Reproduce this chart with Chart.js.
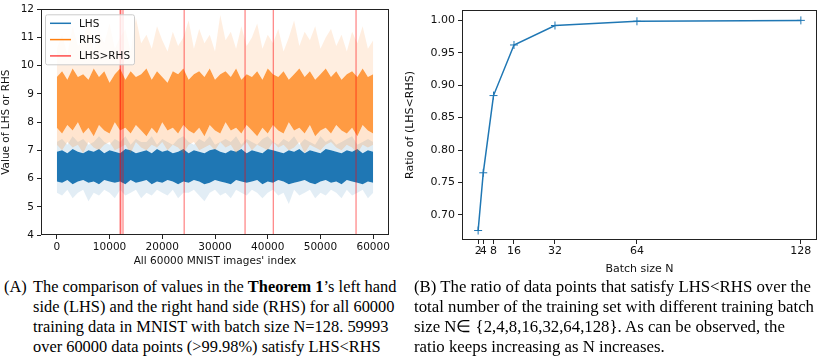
<!DOCTYPE html>
<html>
<head>
<meta charset="utf-8">
<script src="https://cdn.jsdelivr.net/npm/chart.js@4.4.1/dist/chart.umd.min.js"></script>
<style>
  body { margin: 0; background: #fff; width: 822px; height: 361px; position: relative; overflow: hidden; }
  canvas { position: absolute; top: 0; }
  #left { left: 0; }
  #right { left: 400px; }
  .cap { position: absolute; font-family: "Liberation Serif", serif; font-size: 16.4px; line-height: 20px; color: #000; white-space: nowrap; }
  #capA { left: 4px; top: 277px; }
  #capA .lab { position: absolute; left: 0; top: 0; }
  #capA .txt { margin-left: 29px; }
  #capB { left: 414px; top: 277px; font-size: 16.8px; }
</style>
</head>
<body>
<canvas id="left" width="400" height="270"></canvas>
<canvas id="right" width="422" height="280"></canvas>
<div class="cap" id="capA"><span class="lab">(A)</span><div class="txt">The comparison of values in the <b>Theorem 1</b>’s left hand<br>side (LHS) and the right hand side (RHS) for all 60000<br>training data in MNIST with batch size N=128. 59993<br>over 60000 data points (&gt;99.98%) satisfy LHS&lt;RHS</div></div>
<div class="cap" id="capB">(B) The ratio of data points that satisfy LHS&lt;RHS over the<br>total number of the training set with different training batch<br>size N∈ {2,4,8,16,32,64,128}. As can be observed, the<br>ratio keeps increasing as N increases.</div>
<script>
// left panel: envelopes of the dense LHS / RHS traces, one value per 1000 images
const imageIndex = Array.from({ length: 61 }, (_, i) => i * 1000);
const rhsTop = [
  10.6, 11.1, 10.4, 11.4, 10.7, 10.9, 11.6, 10.5, 11.2, 10.8,
  11.5, 10.6, 11.0, 11.3, 10.5, 11.7, 10.8, 11.1, 10.6, 11.4,
  10.9, 10.5, 11.2, 10.7, 11.0, 11.6, 10.6, 11.3, 10.8, 11.1,
  10.5, 11.8, 10.9, 11.2, 10.6, 11.4, 10.7, 11.0, 11.5, 10.6,
  11.1, 10.8, 11.3, 10.5, 11.0, 11.6, 10.7, 11.2, 10.9, 11.4,
  10.6, 11.0, 11.3, 10.7, 11.1, 10.5, 11.2, 10.8, 11.4, 10.6,
  10.9];
const rhsCoreTop = [
  9.6, 9.8, 9.5, 9.9, 9.6, 9.7, 9.5, 9.9, 9.6, 9.8,
  9.4, 9.7, 9.9, 9.5, 9.8, 9.6, 9.7, 9.9, 9.5, 9.8,
  9.6, 9.4, 9.8, 9.7, 9.9, 9.5, 9.7, 9.8, 9.6, 9.9,
  9.5, 9.7, 9.8, 9.6, 9.9, 9.5, 9.7, 9.6, 9.8, 9.5,
  9.9, 9.7, 9.6, 9.8, 9.5, 9.7, 9.9, 9.6, 9.8, 9.5,
  9.7, 9.9, 9.6, 9.8, 9.5, 9.7, 9.8, 9.6, 9.9, 9.6,
  9.7];
const rhsCoreBot = [
  7.8, 7.6, 7.9, 7.7, 8.0, 7.6, 7.8, 7.5, 7.9, 7.7,
  7.6, 8.0, 7.7, 7.8, 7.6, 7.9, 7.7, 7.5, 7.8, 7.6,
  8.0, 7.7, 7.8, 7.6, 7.9, 7.7, 7.6, 7.8, 7.5, 7.9,
  7.7, 7.6, 8.0, 7.7, 7.8, 7.6, 7.9, 7.7, 7.5, 7.8,
  7.6, 7.9, 7.7, 7.6, 8.0, 7.7, 7.8, 7.6, 7.9, 7.5,
  7.7, 7.8, 7.6, 7.9, 7.7, 7.6, 7.8, 7.5, 7.9, 7.7,
  7.6];
const rhsLow = [
  7.2, 7.0, 7.3, 7.1, 7.2, 6.9, 7.3, 7.1, 7.0, 7.2,
  7.3, 7.0, 7.1, 7.2, 6.9, 7.3, 7.1, 7.0, 7.2, 7.1,
  7.3, 7.0, 7.2, 7.1, 6.9, 7.2, 7.3, 7.0, 7.1, 7.2,
  7.0, 7.3, 7.1, 7.2, 6.9, 7.1, 7.3, 7.0, 7.2, 7.1,
  7.0, 7.3, 7.1, 7.2, 7.0, 7.1, 7.3, 6.9, 7.2, 7.1,
  7.0, 7.2, 7.3, 7.1, 7.0, 7.2, 7.1, 6.9, 7.2, 7.1,
  7.2];
const lhsTop = [
  7.3, 7.4, 7.2, 7.5, 7.3, 7.4, 7.2, 7.3, 7.5, 7.3,
  7.2, 7.4, 7.3, 7.5, 7.2, 7.4, 7.3, 7.3, 7.5, 7.2,
  7.4, 7.3, 7.2, 7.4, 7.5, 7.3, 7.2, 7.4, 7.3, 7.5,
  7.2, 7.3, 7.4, 7.3, 7.5, 7.2, 7.4, 7.3, 7.2, 7.4,
  7.5, 7.3, 7.2, 7.4, 7.3, 7.5, 7.2, 7.4, 7.3, 7.2,
  7.5, 7.3, 7.4, 7.2, 7.3, 7.4, 7.5, 7.2, 7.3, 7.4,
  7.3];
const lhsCoreTop = [
  6.95, 7.0, 6.9, 7.05, 6.95, 6.9, 7.0, 6.95, 7.05, 6.9,
  7.0, 6.95, 6.9, 7.05, 7.0, 6.9, 6.95, 7.0, 6.9, 7.05,
  6.95, 7.0, 6.9, 6.95, 7.05, 6.9, 7.0, 6.95, 6.9, 7.0,
  7.05, 6.95, 6.9, 7.0, 6.95, 7.05, 6.9, 7.0, 6.95, 6.9,
  7.05, 7.0, 6.95, 6.9, 7.0, 6.95, 7.05, 6.9, 7.0, 6.95,
  6.9, 7.05, 7.0, 6.95, 6.9, 7.0, 6.95, 7.05, 6.9, 7.0,
  6.95];
const lhsCoreBot = [
  5.9, 5.85, 5.95, 5.8, 5.9, 5.95, 5.85, 5.9, 5.8, 5.95,
  5.9, 5.85, 5.9, 5.8, 5.95, 5.85, 5.9, 5.95, 5.8, 5.9,
  5.85, 5.95, 5.9, 5.8, 5.9, 5.85, 5.95, 5.9, 5.8, 5.85,
  5.95, 5.9, 5.85, 5.8, 5.95, 5.9, 5.85, 5.9, 5.95, 5.8,
  5.9, 5.85, 5.95, 5.9, 5.8, 5.85, 5.9, 5.95, 5.85, 5.8,
  5.9, 5.95, 5.85, 5.9, 5.8, 5.95, 5.9, 5.85, 5.8, 5.9,
  5.85];
const lhsLow = [
  5.5, 5.4, 5.6, 5.3, 5.5, 5.6, 5.2, 5.5, 5.4, 5.6,
  5.5, 5.3, 5.6, 5.4, 5.5, 5.6, 5.3, 5.5, 5.4, 5.6,
  5.5, 5.4, 5.6, 5.3, 5.5, 5.5, 5.6, 5.4, 5.2, 5.5,
  5.6, 5.4, 5.5, 5.3, 5.6, 5.5, 5.4, 5.6, 5.5, 5.3,
  5.5, 5.6, 5.4, 5.5, 5.1, 5.6, 5.4, 5.5, 5.6, 5.3,
  5.5, 5.4, 5.6, 5.5, 5.3, 5.6, 5.4, 5.5, 5.6, 5.3,
  5.5];
// images where LHS > RHS (7 of 60000)
const violations = [12000, 12150, 12550, 24150, 35700, 41050, 56750];
const leftXTicks = [0, 10000, 20000, 30000, 40000, 50000, 60000];
const leftYTicks = [4, 5, 6, 7, 8, 9, 10, 11, 12];

// right panel
const batchSizes = [2, 4, 8, 16, 32, 64, 128];
const ratios = [0.676, 0.765, 0.884, 0.962, 0.992, 0.9985, 0.9999];
const rightYTicks = [0.70, 0.75, 0.80, 0.85, 0.90, 0.95, 1.00];

const BLUE = "#1f77b4";
const ORANGE = "#ff7f0e";
const TXT = "#111";

const pts = (arr) => arr.map((v, i) => ({ x: imageIndex[i], y: v }));
const band = (arr, fillColor) => ({
  data: pts(arr), borderWidth: 0, pointRadius: 0, tension: 0,
  fill: fillColor ? "+1" : false, backgroundColor: fillColor || "transparent",
});

const redLine = [];
violations.forEach((v) => {
  redLine.push({ x: v, y: 3.5 }, { x: v, y: 12.5 }, { x: v, y: null });
});

// box around plot area like matplotlib spines
const frame = {
  id: "frame",
  afterDraw(chart) {
    const { ctx, chartArea: a } = chart;
    ctx.save();
    ctx.strokeStyle = "#222";
    ctx.lineWidth = 1;
    ctx.strokeRect(Math.round(a.left) + 0.5, Math.round(a.top) + 0.5,
      Math.round(a.right - a.left) - 1, Math.round(a.bottom - a.top) - 1);
    ctx.restore();
  },
};

// legend inside the plot (top left)
const boxLegend = {
  id: "boxLegend",
  afterDraw(chart) {
    const { ctx, chartArea: a } = chart;
    const items = [["LHS", BLUE], ["RHS", ORANGE], ["LHS>RHS", "rgba(255,0,0,0.7)"]];
    const x0 = a.left + 4, y0 = a.top + 5, w = 89, h = 50;
    ctx.save();
    ctx.fillStyle = "rgba(255,255,255,0.8)";
    ctx.strokeStyle = "#ccc";
    ctx.lineWidth = 1;
    ctx.beginPath();
    ctx.roundRect(x0 + 0.5, y0 + 0.5, w, h, 2);
    ctx.fill();
    ctx.stroke();
    ctx.font = "10.5px 'DejaVu Sans'";
    ctx.textBaseline = "middle";
    items.forEach(([label, color], i) => {
      const y = y0 + 9 + i * 16.3;
      ctx.strokeStyle = color;
      ctx.lineWidth = 1.5;
      ctx.beginPath();
      ctx.moveTo(x0 + 5, y);
      ctx.lineTo(x0 + 26, y);
      ctx.stroke();
      ctx.fillStyle = TXT;
      ctx.fillText(label, x0 + 34, y + 0.5);
    });
    ctx.restore();
  },
};

const tickGrid = { drawOnChartArea: false, drawTicks: true, tickLength: 4, tickColor: "#222", tickWidth: 1 };

new Chart(document.getElementById("left"), {
  type: "line",
  data: {
    datasets: [
      { data: redLine, borderColor: "rgba(255,0,0,0.6)", borderWidth: 1, pointRadius: 0, fill: false, spanGaps: false },
      band(rhsTop, "rgba(255,127,14,0.13)"),
      band(rhsCoreTop, "rgba(255,127,14,0.78)"),
      band(rhsCoreBot, "rgba(255,127,14,0.2)"),
      band(rhsLow, null),
      band(lhsTop, "rgba(31,119,180,0.14)"),
      band(lhsCoreTop, BLUE),
      band(lhsCoreBot, "rgba(31,119,180,0.13)"),
      band(lhsLow, null),
    ],
  },
  options: {
    responsive: false,
    animation: false,
    devicePixelRatio: 1,
    events: [],
    layout: { padding: { top: 7, right: 11, left: 0, bottom: 0 } },
    plugins: { legend: { display: false }, tooltip: { enabled: false } },
    scales: {
      x: {
        type: "linear", min: -3000, max: 63000,
        afterBuildTicks: (s) => { s.ticks = leftXTicks.map((v) => ({ value: v })); },
        afterFit: (s) => { s.height = 35; },
        grid: tickGrid,
        border: { display: false },
        ticks: { color: TXT, font: { family: "DejaVu Sans", size: 10.5 }, padding: 2, maxRotation: 0, autoSkip: false, callback: (v) => String(v) },
        title: { display: true, text: "All 60000 MNIST images' index", color: TXT, font: { family: "DejaVu Sans", size: 10.5 }, padding: { top: 0, bottom: 2 } },
      },
      y: {
        min: 4, max: 12,
        afterBuildTicks: (s) => { s.ticks = leftYTicks.map((v) => ({ value: v })); },
        afterFit: (s) => { s.width = 41; },
        grid: tickGrid,
        border: { display: false },
        ticks: { color: TXT, font: { family: "DejaVu Sans", size: 10.5 }, padding: 3, callback: (v) => String(v) },
        title: { display: true, text: "Value of LHS or RHS", color: TXT, font: { family: "DejaVu Sans", size: 10.5 }, padding: { top: 0, bottom: 0 } },
      },
    },
  },
  plugins: [frame, boxLegend],
});

new Chart(document.getElementById("right"), {
  type: "line",
  data: {
    datasets: [{
      data: batchSizes.map((n, i) => ({ x: n, y: ratios[i] })),
      borderColor: BLUE, borderWidth: 1.5, tension: 0, fill: false,
      pointStyle: "cross", pointRadius: 4, pointBorderColor: BLUE, pointBorderWidth: 1,
    }],
  },
  options: {
    responsive: false,
    animation: false,
    devicePixelRatio: 1,
    events: [],
    layout: { padding: { top: 10, right: 5, left: 0, bottom: 0 } },
    plugins: { legend: { display: false }, tooltip: { enabled: false } },
    scales: {
      x: {
        type: "linear", min: -4.3, max: 134.3,
        afterBuildTicks: (s) => { s.ticks = batchSizes.map((v) => ({ value: v })); },
        afterFit: (s) => { s.height = 40; },
        grid: tickGrid,
        border: { display: false },
        ticks: { color: TXT, font: { family: "DejaVu Sans", size: 11 }, padding: 1, maxRotation: 0, autoSkip: false, callback: (v) => String(v) },
        title: { display: true, text: "Batch size N", color: TXT, font: { family: "DejaVu Sans", size: 11 }, padding: { top: 0, bottom: 4 } },
      },
      y: {
        min: 0.6614, max: 1.0159,
        afterBuildTicks: (s) => { s.ticks = rightYTicks.map((v) => ({ value: v })); },
        afterFit: (s) => { s.width = 62; },
        grid: tickGrid,
        border: { display: false },
        ticks: { color: TXT, font: { family: "DejaVu Sans", size: 11 }, padding: 3, callback: (v) => v.toFixed(2) },
        title: { display: true, text: "Ratio of (LHS<RHS)", color: TXT, font: { family: "DejaVu Sans", size: 11 }, padding: { top: 4, bottom: 0 } },
      },
    },
  },
  plugins: [frame],
});
</script>
</body>
</html>
